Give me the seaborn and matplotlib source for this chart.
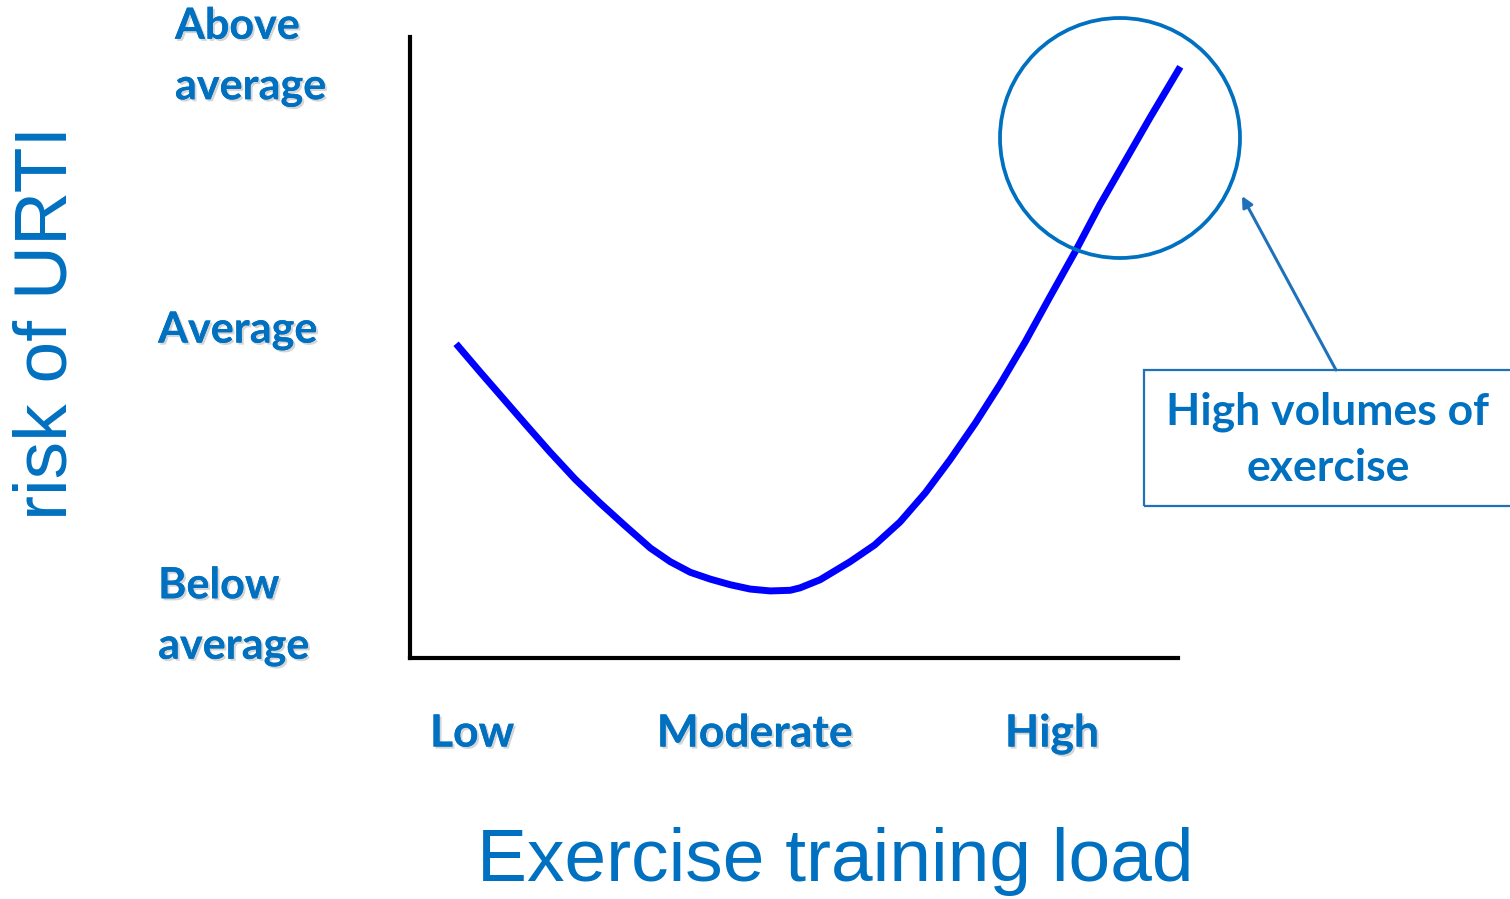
import numpy as np
import matplotlib.pyplot as plt
import matplotlib.patheffects as pe
from matplotlib.patches import Ellipse, Rectangle
import pandas as pd
import seaborn as sns

# curve (load 0-100, risk 0-100)
load = [6.0, 9.1, 11.7, 15.0, 18.2, 21.5, 24.7, 28.0, 31.3, 33.9, 36.5,
        39.1, 41.7, 44.3, 46.9, 49.5, 50.8, 53.4, 57.3, 60.5, 63.8, 67.1,
        70.3, 73.6, 76.8, 80.1, 83.3, 86.6, 89.8, 93.1, 96.4, 100.3]
risk = [50.6, 46.1, 42.4, 37.7, 33.2, 28.8, 25.0, 21.3, 17.7, 15.5, 13.8,
        12.7, 11.8, 11.1, 10.8, 10.9, 11.3, 12.6, 15.5, 18.2, 21.9, 26.6,
        31.9, 37.8, 44.0, 50.9, 58.1, 65.4, 72.9, 80.0, 87.1, 95.2]

x_labels = ['Low', 'Moderate', 'High']
x_ticks = [8.1, 44.9, 83.6]
y_labels = ['Above\naverage', 'Average', 'Below\naverage']
y_pos = [96.9, 52.8, 6.8]

TXT = '#0070C0'
ACC = '#1F72BA'

sns.set_style('white')
plt.rcParams['font.family'] = ['Lato', 'DejaVu Sans']

df = pd.DataFrame({'load': load, 'risk': risk})

fig = plt.figure(figsize=(15.1, 8.99), dpi=100)
W, H = 1510, 899
ax = fig.add_axes([410 / W, 1 - 658 / H, 768 / W, 621 / H])
sns.lineplot(data=df, x='load', y='risk', ax=ax, color='#0000FF',
             linewidth=5, sort=False, clip_on=False,
             solid_capstyle='butt', solid_joinstyle='round')
ax.set_xlim(0, 100)
ax.set_ylim(0, 100)

for s in ['top', 'right']:
    ax.spines[s].set_visible(False)
for s in ['left', 'bottom']:
    ax.spines[s].set_linewidth(3)
    ax.spines[s].set_color('black')

shadow = [pe.withSimplePatchShadow(offset=(1.5, -1.5), shadow_rgbFace='#888888', alpha=0.35),
          pe.Normal()]

ax.set_xticks(x_ticks)
ax.set_xticklabels(x_labels, fontsize=32, fontweight='bold', color=TXT)
ax.tick_params(axis='x', length=0, pad=40)
ax.set_yticks([])
for lab in ax.get_xticklabels():
    lab.set_path_effects(shadow)

y_left = [-30.6, -32.8, -32.8]
for lab, yp, xl in zip(y_labels, y_pos, y_left):
    ax.text(xl, yp, lab, ha='left', va='center', fontsize=31,
            fontweight='bold', color=TXT, linespacing=1.62,
            path_effects=shadow, clip_on=False)

ax.set_xlabel('')
ax.set_ylabel('')
fig.text(835 / W, 1 - 862 / H, 'Exercise training load', ha='center', va='center',
         fontsize=54, color=TXT, family='Liberation Sans')
fig.text(47 / W, 1 - 323 / H, 'risk of URTI', ha='center', va='center',
         rotation=90, fontsize=54, color=TXT, family='Liberation Sans')

# circle around the high-load end
fig.add_artist(Ellipse((1120 / W, 1 - 138 / H), 240 / W, 240 / H,
                       transform=fig.transFigure, fill=False,
                       edgecolor=TXT, linewidth=2.7))

# callout box
fig.add_artist(Rectangle((1144 / W, 1 - 506 / H), 380 / W, 136 / H,
                         transform=fig.transFigure, fill=False,
                         edgecolor=ACC, linewidth=1.6))
fig.text(1328 / W, 1 - 440 / H, 'High volumes of\nexercise', ha='center',
         va='center', fontsize=32, fontweight='bold', color=TXT,
         linespacing=1.5)
fig.add_artist(plt.Annotation('', xy=(1242 / W, 1 - 196 / H),
                              xytext=(1336 / W, 1 - 370 / H),
                              xycoords='figure fraction',
                              textcoords='figure fraction',
                              arrowprops=dict(arrowstyle='-|>', color=ACC,
                                              lw=2.2, mutation_scale=16,
                                              shrinkA=0, shrinkB=0)))

fig.savefig('out.png', dpi=100)
